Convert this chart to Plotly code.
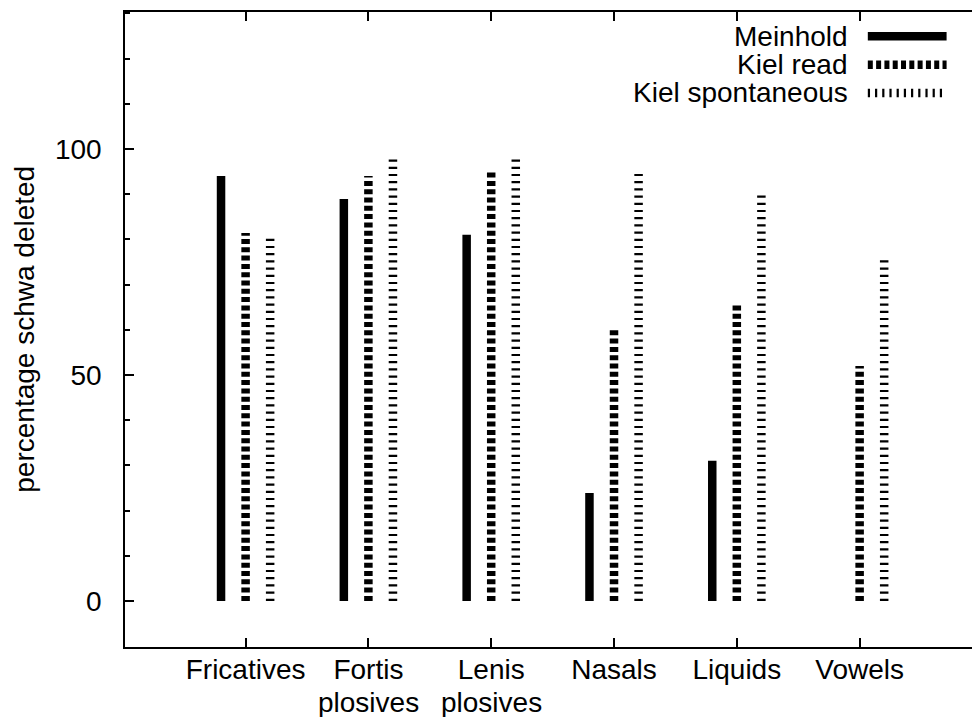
import plotly.graph_objects as go

categories = ["Fricatives", "Fortis plosives", "Lenis plosives", "Nasals", "Liquids", "Vowels"]
tick_line1 = ["Fricatives", "Fortis", "Lenis", "Nasals", "Liquids", "Vowels"]
tick_line2 = ["", "plosives", "plosives", "", "", ""]
meinhold = [94.0, 88.9, 81.0, 23.9, 31.0, 0.0]
kiel_read = [81.4, 94.0, 94.8, 60.4, 66.0, 52.0]
kiel_spont = [80.2, 97.7, 97.7, 94.7, 89.8, 75.4]

series = [
    ("Meinhold", meinhold, -0.2, "solid"),
    ("Kiel read", kiel_read, 0.0, "5px,3.3px"),
    ("Kiel spontaneous", kiel_spont, 0.2, "2.2px,5px"),
]

FONT = "Liberation Sans, Arial, Helvetica, sans-serif"
fig = go.Figure()
positions = list(range(1, len(categories) + 1))
for name, vals, off, dash in series:
    xs, ys = [], []
    for p, v in zip(positions, vals):
        xs += [p + off, p + off, None]
        ys += [0, v, None]
    fig.add_trace(go.Scatter(x=xs, y=ys, mode="lines", name=name,
                             line=dict(color="black", width=8.5, dash=dash),
                             showlegend=False, hoverinfo="skip"))

# second line of two-line category labels
for p, t in zip(positions, tick_line2):
    if t:
        fig.add_annotation(x=p, y=0, xref="x", yref="paper", text=t, showarrow=False,
                           yanchor="top", yshift=-38, font=dict(size=28, color="black", family=FONT))

# custom legend (text left of key, right aligned)
leg_y = [0.9617, 0.9171, 0.8725]
for (name, vals, off, dash), ly in zip(series, leg_y):
    fig.add_annotation(x=0.8565, y=ly, xref="paper", yref="paper", text=name, showarrow=False,
                       xanchor="right", yanchor="middle", font=dict(size=28, color="black", family=FONT))
    fig.add_shape(type="line", xref="paper", yref="paper", x0=0.877, x1=0.970, y0=ly, y1=ly,
                  line=dict(color="black", width=8.5, dash=dash))

fig.add_annotation(x=-0.119, y=0.5, xref="paper", yref="paper", text="percentage schwa deleted",
                   showarrow=False, textangle=-90, xanchor="center", yanchor="middle",
                   font=dict(size=28, color="black", family=FONT))

fig.update_layout(
    width=972, height=717,
    margin=dict(l=125, r=0, t=12, b=70),
    plot_bgcolor="white", paper_bgcolor="white",
    font=dict(family=FONT, size=28, color="black"),
    xaxis=dict(range=[0.018, 6.915], tickmode="array", tickvals=positions, ticktext=tick_line1,
               ticks="inside", ticklen=9, tickwidth=1.5, tickcolor="black",
               showline=True, linewidth=1.5, linecolor="black", mirror="ticks",
               showgrid=False, zeroline=False, ticklabelstandoff=-3),
    yaxis=dict(range=[-10.2, 130.3], tickvals=[0, 50, 100], ticks="inside", ticklen=9,
               tickwidth=1.5, tickcolor="black", showline=True, linewidth=1.5, linecolor="black",
               showgrid=False, zeroline=False, ticklabelstandoff=16,
               minor=dict(dtick=10, tick0=0, ticks="inside", ticklen=5, tickwidth=1.5, tickcolor="black")),
)
fig.write_html("out.html", config={"displayModeBar": False},
               post_script="document.body.style.margin='0';document.body.style.overflow='hidden';")
